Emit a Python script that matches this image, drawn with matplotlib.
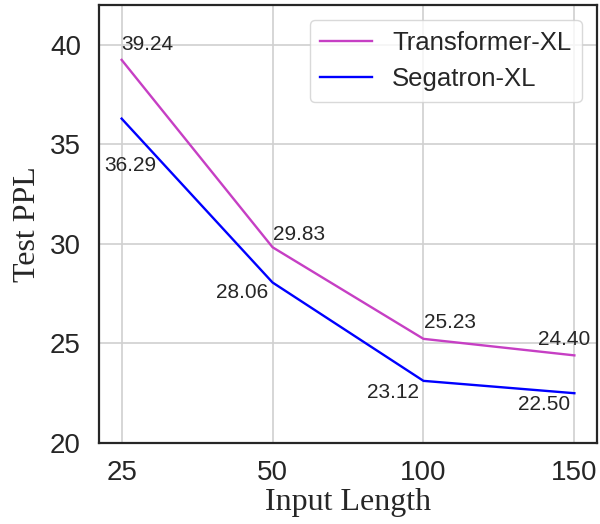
import numpy as np
import matplotlib
matplotlib.use("Agg")
import matplotlib.pyplot as plt

lengths = ["25", "50", "100", "150"]
transformer_xl = [39.24, 29.83, 25.23, 24.40]
segatron_xl = [36.29, 28.06, 23.12, 22.50]

plt.rcParams['font.family'] = ['Liberation Sans', 'DejaVu Sans']

fig = plt.figure(figsize=(6, 5.24), dpi=100)
ax = fig.add_axes([0.165, 0.1546, 0.83, 0.836])

x = np.arange(len(lengths))
ax.plot(x, transformer_xl, color='#C63FC4', lw=1.7, label='Transformer-XL')
ax.plot(x, segatron_xl, color='#0000FF', lw=1.7, label='Segatron-XL')

# label offsets in pixels (dx, dy, ha)
t_offsets = [(0, 15, 'left'), (0, 13, 'left'), (1, 16, 'left'), (-10, 16, 'center')]
s_offsets = [(9, -47, 'center'), (-4, -10, 'right'), (-4, -12, 'right'), (-4, -11, 'right')]
for xi, v, (dx, dy, ha) in zip(x, transformer_xl, t_offsets):
    ax.annotate(f"{v:.2f}", (xi, v), xytext=(dx, dy), textcoords='offset pixels',
                ha=ha, va='center', fontsize=15, color='#262626')
for xi, v, (dx, dy, ha) in zip(x, segatron_xl, s_offsets):
    ax.annotate(f"{v:.2f}", (xi, v), xytext=(dx, dy), textcoords='offset pixels',
                ha=ha, va='center', fontsize=15, color='#262626')

ax.set_xticks(x)
ax.set_xticklabels(lengths)
ax.set_ylim(20, 42)
ax.set_yticks([20, 25, 30, 35, 40])
ax.tick_params(labelsize=20, length=0, colors='#262626')
ax.tick_params(axis='x', pad=12)
ax.tick_params(axis='y', pad=13)
ax.grid(True, color='#d0d0d0', lw=1.2)
ax.set_axisbelow(True)
for s in ax.spines.values():
    s.set_color('#262626')
    s.set_linewidth(1.6)

ax.set_xlabel("Input Length", family='Liberation Serif', fontsize=23, color='#262626', labelpad=2)
ax.set_ylabel("Test PPL", family='Liberation Serif', fontsize=23, color='#262626', labelpad=6)

leg = ax.legend(loc='upper right', fontsize=18.5, frameon=True, borderaxespad=0.6)
leg.get_frame().set_edgecolor('#d0d0d0')
for t in leg.get_texts():
    t.set_color('#262626')

fig.savefig("out.png", dpi=100)
